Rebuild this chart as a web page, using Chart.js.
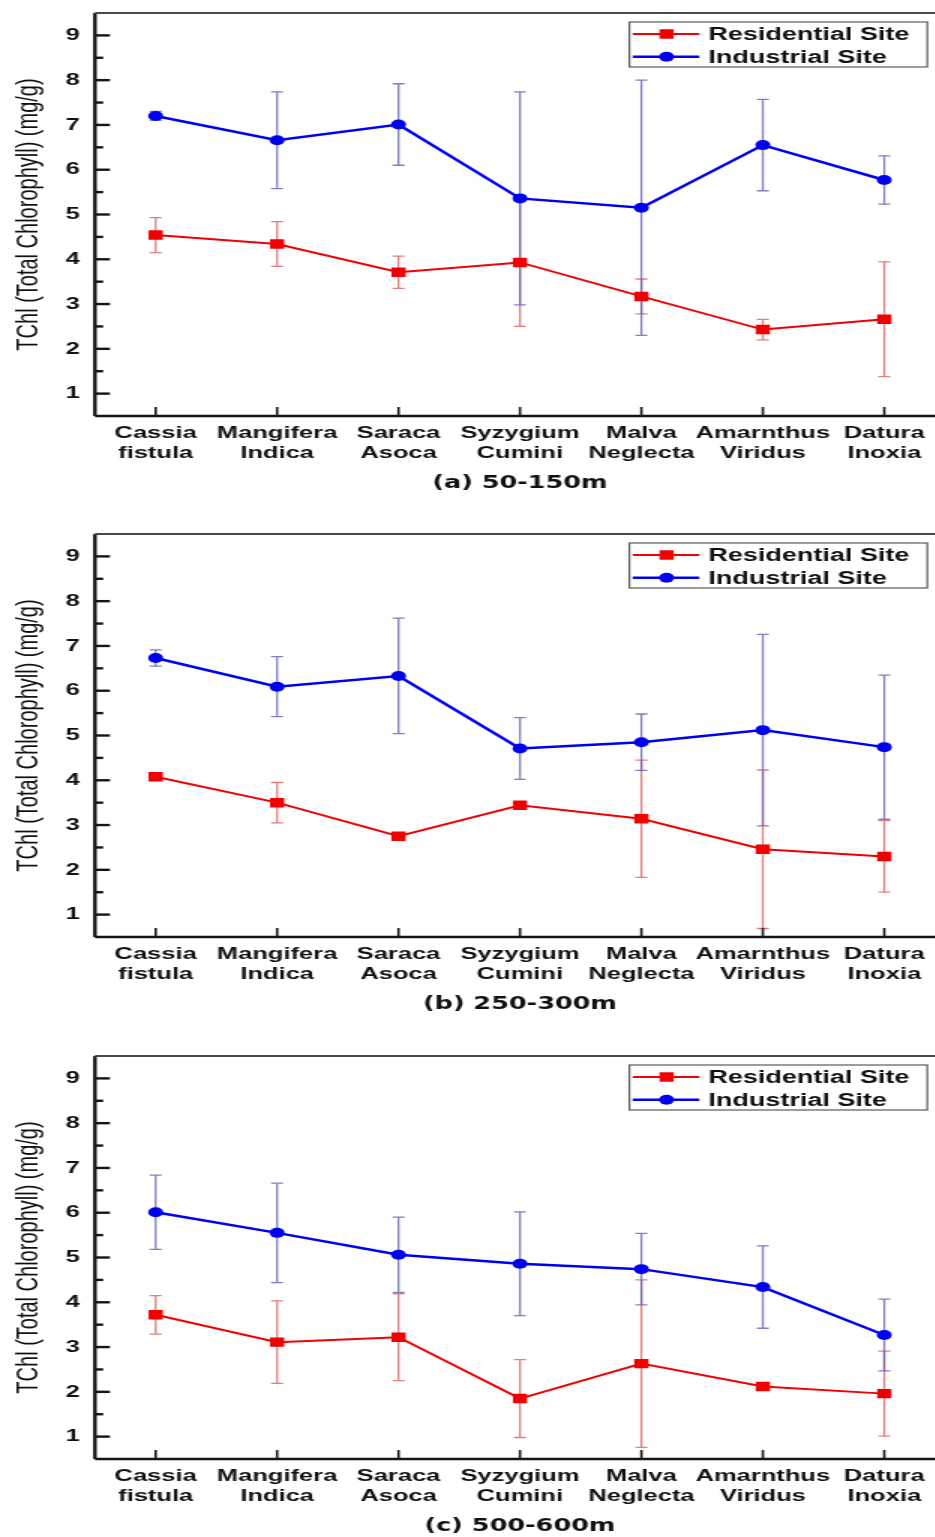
<!DOCTYPE html>
<html>
<head>
<meta charset="utf-8">
<script src="https://cdn.jsdelivr.net/npm/chart.js@4.4.1/dist/chart.umd.min.js"></script>
<style>
  html, body { margin: 0; padding: 0; background: #fff; overflow: hidden; }
  #page { position: relative; width: 935px; height: 1537px; overflow: hidden; }
  .panel { position: absolute; left: 0; width: 945px; }
</style>
</head>
<body>
<div id="page">
  <div class="panel" style="top:0px"><canvas id="chartA" width="630" height="512" style="width:945px;height:512px"></canvas></div>
  <div class="panel" style="top:521px"><canvas id="chartB" width="630" height="512" style="width:945px;height:512px"></canvas></div>
  <div class="panel" style="top:1043px"><canvas id="chartC" width="630" height="512" style="width:945px;height:512px"></canvas></div>
</div>
<script>
// plant species on the x axis (two text lines each)
const species = [
  ['Cassia', 'fistula'], ['Mangifera', 'Indica'], ['Saraca', 'Asoca'],
  ['Syzygium', 'Cumini'], ['Malva', 'Neglecta'], ['Amarnthus', 'Viridus'], ['Datura', 'Inoxia']
];
const yTicks = [1, 2, 3, 4, 5, 6, 7, 8, 9];
const yTitle = 'TChl (Total Chlorophyll) (mg/g)';
const seriesNames = ['Residential Site', 'Industrial Site'];

// (a) 50-150m
const resA    = [4.54, 4.34, 3.71, 3.93, 3.17, 2.43, 2.66];
const resErrA = [0.39, 0.50, 0.36, 1.43, 0.39, 0.23, 1.28];
const indA    = [7.20, 6.66, 7.01, 5.36, 5.15, 6.55, 5.77];
const indErrA = [0.10, 1.08, 0.91, 2.38, 2.85, 1.02, 0.54];

// (b) 250-300m
const resB    = [4.08, 3.50, 2.75, 3.44, 3.14, 2.46, 2.30];
const resErrB = [0.05, 0.45, 0.05, 0.05, 1.31, 1.77, 0.80];
const indB    = [6.73, 6.09, 6.33, 4.71, 4.85, 5.12, 4.74];
const indErrB = [0.18, 0.67, 1.29, 0.69, 0.63, 2.14, 1.61];

// (c) 500-600m
const resC    = [3.72, 3.11, 3.22, 1.85, 2.63, 2.12, 1.96];
const resErrC = [0.43, 0.92, 0.97, 0.87, 1.87, 0.05, 0.95];
const indC    = [6.01, 5.55, 5.06, 4.86, 4.74, 4.34, 3.27];
const indErrC = [0.83, 1.11, 0.84, 1.16, 0.80, 0.92, 0.80];

Chart.defaults.font.family = '"Liberation Sans", Arial, sans-serif';
Chart.defaults.color = '#111';

// vertical error bars with caps, drawn under the lines
const errorBars = {
  id: 'errorBars',
  beforeDatasetsDraw(chart) {
    const { ctx, scales: { x, y } } = chart;
    chart.data.datasets.forEach(ds => {
      ctx.save();
      ctx.strokeStyle = ds.errorColor;
      ctx.lineWidth = 1.3;
      ds.data.forEach((v, j) => {
        const e = ds.errors[j];
        const px = x.getPixelForValue(j);
        const top = y.getPixelForValue(v + e);
        const bot = y.getPixelForValue(v - e);
        ctx.beginPath();
        ctx.moveTo(px, top); ctx.lineTo(px, bot);
        ctx.moveTo(px - 4, top); ctx.lineTo(px + 4, top);
        ctx.moveTo(px - 4, bot); ctx.lineTo(px + 4, bot);
        ctx.stroke();
      });
      ctx.restore();
    });
  }
};

// box around the plot with inward tick marks
const frame = {
  id: 'frame',
  afterDatasetsDraw(chart) {
    const { ctx, chartArea: a, scales: { x, y } } = chart;
    const seg = (x1, y1, x2, y2) => { ctx.beginPath(); ctx.moveTo(x1, y1); ctx.lineTo(x2, y2); ctx.stroke(); };
    ctx.save();
    ctx.strokeStyle = '#151515';
    ctx.lineWidth = 2.4;
    y.ticks.forEach((t, i) => {
      const py = y.getPixelForValue(t.value);
      seg(a.left, py, a.left + 10, py);
      if (i < y.ticks.length - 1) {
        const pm = y.getPixelForValue(t.value + 0.5);
        seg(a.left, pm, a.left + 5.5, pm);
      }
    });
    ctx.lineWidth = 1.6;
    species.forEach((s, i) => {
      const px = x.getPixelForValue(i);
      seg(px, a.bottom, px, a.bottom - 9);
    });
    ctx.lineWidth = 2.4;
    seg(a.left, a.top, a.left, a.bottom);
    seg(a.left, a.bottom, a.right, a.bottom);
    seg(a.right, a.top, a.right, a.bottom);
    ctx.strokeStyle = '#4a4a4a';
    ctx.lineWidth = 2.2;
    seg(a.left, a.top, a.right, a.top);
    ctx.restore();
  }
};

// legend box in the top right corner of the plot
const legendBox = {
  id: 'legendBox',
  afterDraw(chart) {
    const { ctx, chartArea: a } = chart;
    const left = a.right - 210.4, top = a.top + 9, w = 198.6, h = 45;
    ctx.save();
    ctx.strokeStyle = '#5a5a5a';
    ctx.lineWidth = 1.2;
    ctx.strokeRect(left, top, w, h);
    ctx.font = 'bold 18px "Liberation Sans", Arial, sans-serif';
    ctx.textBaseline = 'middle';
    chart.data.datasets.forEach((ds, i) => {
      const cy = top + 12 + i * 22.7;
      const mx = left + 24.8;
      ctx.strokeStyle = ds.borderColor;
      ctx.lineWidth = ds.borderWidth;
      ctx.beginPath(); ctx.moveTo(left + 2.2, cy); ctx.lineTo(left + 46.6, cy); ctx.stroke();
      ctx.fillStyle = ds.backgroundColor;
      ctx.beginPath();
      if (ds.pointStyle === 'rect') {
        const s = ds.pointRadius * Math.SQRT1_2;
        ctx.rect(mx - s, cy - s, 2 * s, 2 * s);
      } else {
        ctx.arc(mx, cy, ds.pointRadius, 0, Math.PI * 2);
      }
      ctx.fill();
      ctx.fillStyle = '#111';
      ctx.fillText(ds.label, left + 52.6, cy + 1);
    });
    ctx.restore();
  }
};

// keep the scales from reserving extra room for edge labels
function noPadding(s) {
  s.paddingTop = 0; s.paddingBottom = 0; s.paddingLeft = 0; s.paddingRight = 0;
}

function makePanel(id, res, resErr, ind, indErr, subtitle) {
  new Chart(document.getElementById(id), {
    type: 'line',
    data: {
      labels: species,
      datasets: [{
        label: seriesNames[0],
        data: res,
        errors: resErr,
        errorColor: 'rgba(215, 95, 95, 0.8)',
        borderColor: 'rgb(240, 0, 0)',
        backgroundColor: 'rgb(240, 0, 0)',
        borderWidth: 2,
        pointStyle: 'rect',
        pointRadius: 6.7,
        pointBorderWidth: 0,
        tension: 0
      }, {
        label: seriesNames[1],
        data: ind,
        errors: indErr,
        errorColor: 'rgba(95, 95, 175, 0.8)',
        borderColor: 'rgb(0, 0, 240)',
        backgroundColor: 'rgb(0, 0, 240)',
        borderWidth: 2.5,
        pointStyle: 'circle',
        pointRadius: 5,
        pointBorderWidth: 0,
        tension: 0
      }]
    },
    options: {
      responsive: false,
      devicePixelRatio: 1,
      animation: false,
      layout: { autoPadding: false, padding: { top: 13, right: 0, bottom: 0, left: 0 } },
      plugins: {
        legend: { display: false },
        tooltip: { enabled: false }
      },
      scales: {
        x: {
          type: 'category',
          offset: true,
          grid: { display: false, drawTicks: false },
          border: { display: false },
          ticks: {
            autoSkip: false,
            maxRotation: 0,
            padding: 7.5,
            font: { size: 17, weight: 'bold', lineHeight: 1.15 }
          },
          title: {
            display: true,
            text: subtitle,
            font: { family: '"DejaVu Sans", sans-serif', size: 17, weight: 'bold', lineHeight: 1.2 },
            padding: { top: 0, bottom: 18 }
          },
          afterFit: s => { s.height = 96; noPadding(s); }
        },
        y: {
          min: 0.5,
          max: 9.5,
          grid: { display: false, drawTicks: false },
          border: { display: false },
          ticks: {
            stepSize: 1,
            padding: 10,
            font: { size: 17, weight: 'bold' }
          },
          afterBuildTicks: s => { s.ticks = yTicks.map(v => ({ value: v })); },
          title: {
            display: true,
            text: yTitle,
            font: { size: 20, lineHeight: 1.2 },
            padding: { top: 7.3, bottom: 0 }
          },
          afterFit: s => { s.width = 63.3; noPadding(s); }
        }
      }
    },
    plugins: [errorBars, frame, legendBox]
  });
}

makePanel('chartA', resA, resErrA, indA, indErrA, '(a) 50-150m');
makePanel('chartB', resB, resErrB, indB, indErrB, '(b) 250-300m');
makePanel('chartC', resC, resErrC, indC, indErrC, '(c) 500-600m');
</script>
</body>
</html>
